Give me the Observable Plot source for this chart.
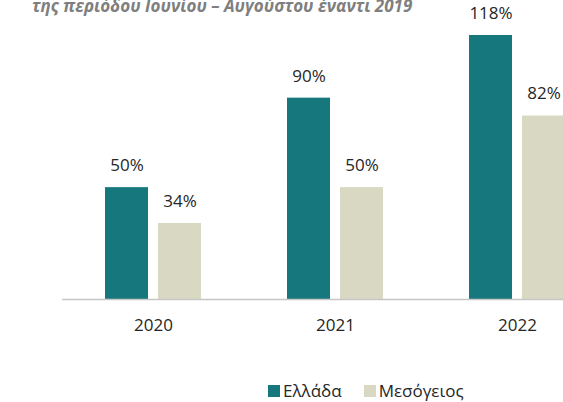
<!DOCTYPE html>
<html><head><meta charset="utf-8">
<script src="https://cdn.jsdelivr.net/npm/d3@7"></script>
<script src="https://cdn.jsdelivr.net/npm/@observablehq/plot@0.6"></script>
<style>
body{margin:0;background:#fff;font-family:"Open Sans",sans-serif;}
#wrap{position:relative;width:563px;height:402px;overflow:hidden;}
#title{position:absolute;left:32px;top:-6px;font-size:17px;font-weight:bold;font-style:italic;color:#7f7f7f;white-space:nowrap;}
#chart{position:absolute;left:0;top:0;}
#legend{position:absolute;left:268px;top:380px;font-size:17px;line-height:22px;color:#262626;display:flex;align-items:center;}
.sw{display:inline-block;width:12px;height:12px;margin-right:3px;}
.item{display:flex;align-items:center;margin-right:22px;}
</style></head><body>
<div id="wrap">
<div id="title">της περιόδου Ιουνίου – Αυγούστου έναντι 2019</div>
<div id="chart"></div>
<div id="legend"></div>
</div>
<script>
const years = ["2020", "2021", "2022"];
const series = ["Ελλάδα", "Μεσόγειος"];
const greece = [50, 90, 118];
const med = [34, 50, 82];
const colors = ["#16787c", "#d9d8c3"];

const data = [];
years.forEach((y, i) => {
  data.push({year: y, series: series[0], value: greece[i]});
  data.push({year: y, series: series[1], value: med[i]});
});

const chart = Plot.plot({
  width: 563, height: 360,
  marginLeft: 62, marginRight: 0, marginTop: 0, marginBottom: 61,
  style: {fontFamily: "Open Sans, sans-serif", fontSize: "17px", color: "#262626", background: "transparent"},
  fx: {domain: years, range: [62, 608], padding: 0, label: null},
  x: {domain: series, paddingInner: 0.187, paddingOuter: 0.79, axis: null},
  y: {domain: [0, 118], range: [299, 35], axis: null},
  color: {domain: series, range: colors},
  marks: [
    Plot.barY(data, {fx: "year", x: "series", y: "value", fill: "series"}),
    Plot.ruleY([0], {stroke: "#c6c6c6", strokeWidth: 1.5}),
    Plot.text(data, {fx: "year", x: "series", y: "value", text: d => d.value + "%", dy: -22, fontSize: 17, fill: "#262626"}),
    Plot.axisFx({anchor: "bottom", tickSize: 0, tickPadding: 19, fontSize: 17, label: null, fill: "#262626"})
  ]
});
document.getElementById("chart").appendChild(chart);

const lg = document.getElementById("legend");
series.forEach((s, i) => {
  const it = document.createElement("span");
  it.className = "item";
  const sw = document.createElement("span");
  sw.className = "sw";
  sw.style.background = colors[i];
  it.appendChild(sw);
  it.appendChild(document.createTextNode(s));
  lg.appendChild(it);
});
</script>
</body></html>
